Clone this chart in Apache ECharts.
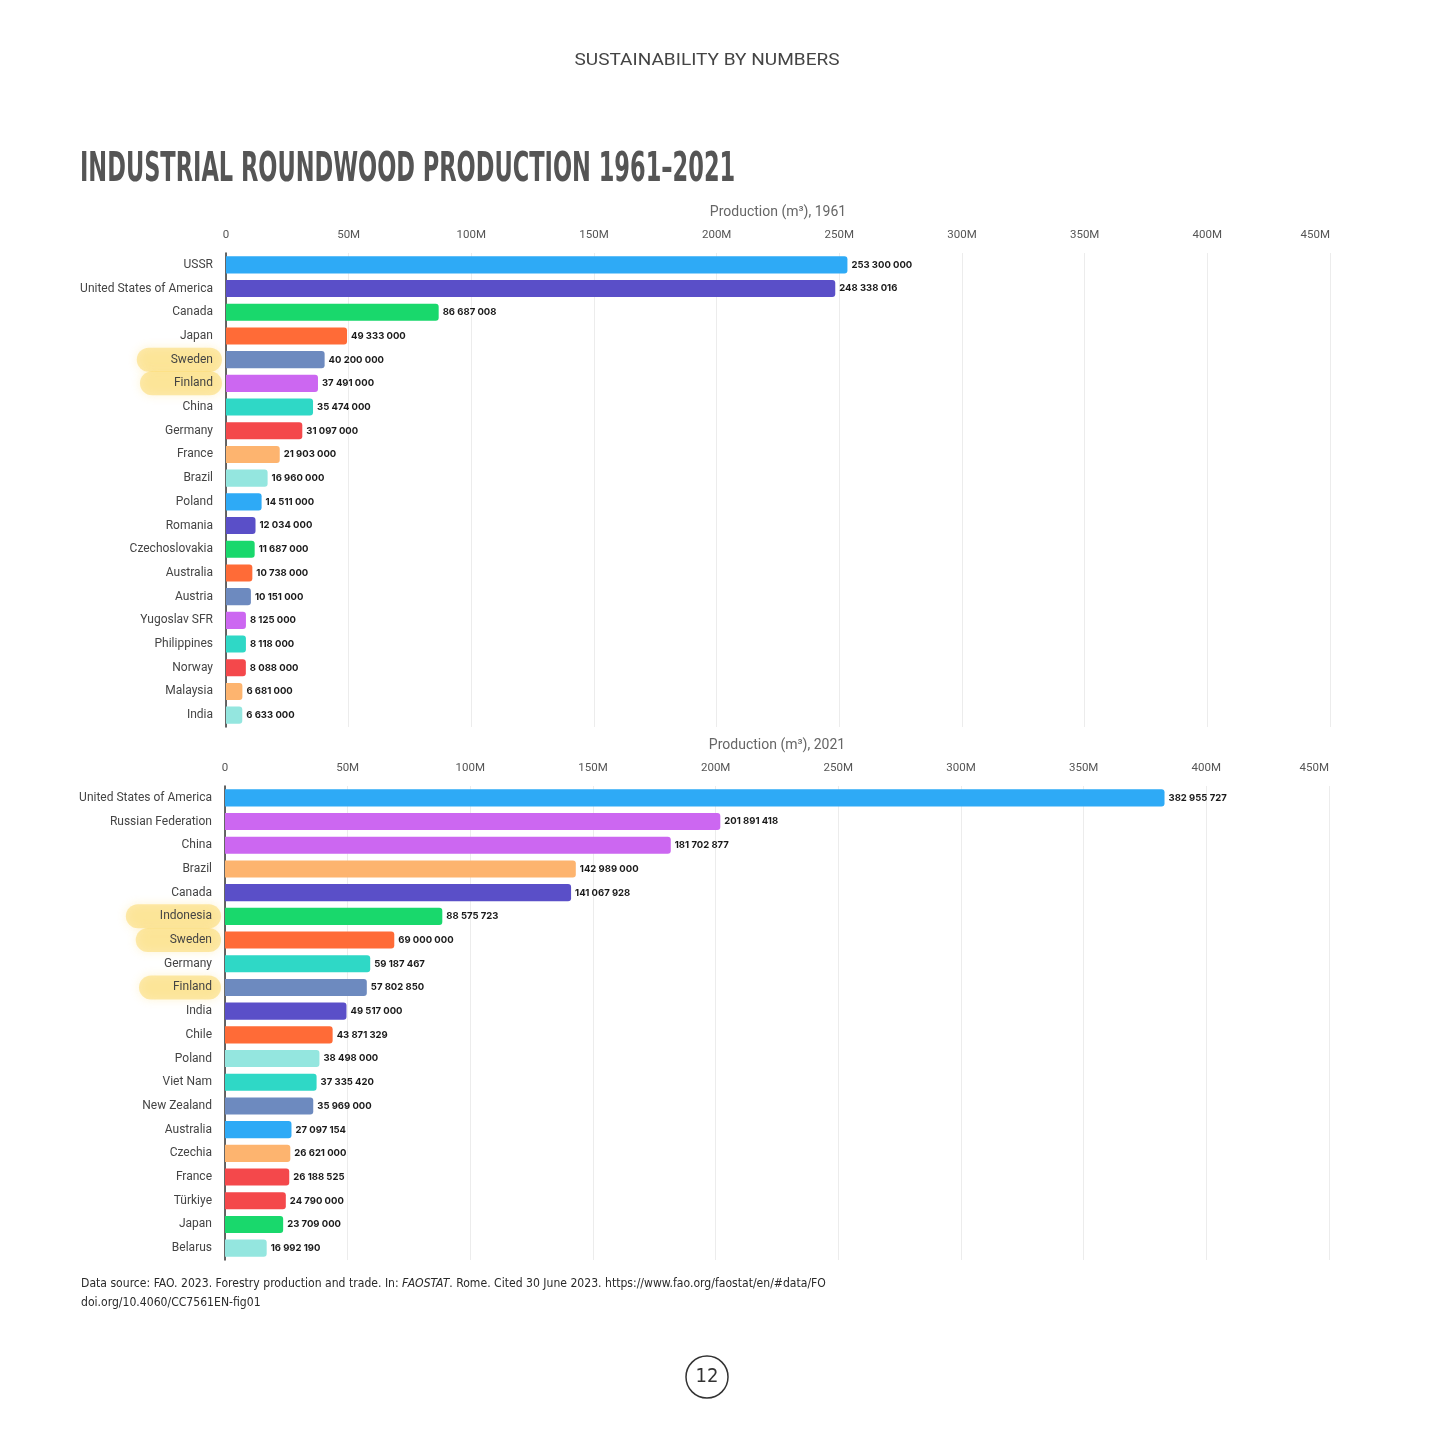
<!DOCTYPE html>
<html>
<head>
<meta charset="utf-8">
<title>Industrial roundwood production 1961-2021</title>
<script src="https://cdn.jsdelivr.net/npm/echarts@6/dist/echarts.min.js"></script>
<style>
  html, body { margin: 0; padding: 0; background: #fff; }
  #chart { width: 1433px; height: 1440px; }
</style>
</head>
<body>
<div id="chart"></div>
<script>
// 1961 data
const countries1961 = ["USSR", "United States of America", "Canada", "Japan", "Sweden", "Finland", "China", "Germany", "France", "Brazil",
  "Poland", "Romania", "Czechoslovakia", "Australia", "Austria", "Yugoslav SFR", "Philippines", "Norway", "Malaysia", "India"];
const values1961 = [253300000, 248338016, 86687008, 49333000, 40200000, 37491000, 35474000, 31097000, 21903000, 16960000,
  14511000, 12034000, 11687000, 10738000, 10151000, 8125000, 8118000, 8088000, 6681000, 6633000];

// 2021 data
const countries2021 = ["United States of America", "Russian Federation", "China", "Brazil", "Canada", "Indonesia", "Sweden", "Germany", "Finland", "India",
  "Chile", "Poland", "Viet Nam", "New Zealand", "Australia", "Czechia", "France", "Türkiye", "Japan", "Belarus"];
const values2021 = [382955727, 201891418, 181702877, 142989000, 141067928, 88575723, 69000000, 59187467, 57802850, 49517000,
  43871329, 38498000, 37335420, 35969000, 27097154, 26621000, 26188525, 24790000, 23709000, 16992190];

const axisMax = 450000000;
const axisStep = 50000000;

// highlighted (marker) labels
const marked1961 = ["Sweden", "Finland"];
const marked2021 = ["Indonesia", "Sweden", "Finland"];

// colours
const palette = {
  blue: "#2eaaf6", indigo: "#5a4fc8", green: "#19d86c", orange: "#ff6b37", slate: "#6d8abf",
  violet: "#cc67f1", teal: "#2fd8c6", red: "#f4484b", peach: "#fdb46f", mint: "#94e6df"
};
const colors1961 = ["blue", "indigo", "green", "orange", "slate", "violet", "teal", "red", "peach", "mint",
  "blue", "indigo", "green", "orange", "slate", "violet", "teal", "red", "peach", "mint"];
const colors2021 = ["blue", "violet", "violet", "peach", "indigo", "green", "orange", "teal", "slate", "indigo",
  "orange", "mint", "teal", "slate", "blue", "peach", "red", "red", "green", "mint"];

const uiFont = "Roboto, 'Noto Sans', sans-serif";
const narrowFont = "'DejaVu Sans Condensed', sans-serif";

function fmtSpaced(v) {
  return String(v).replace(/\B(?=(\d{3})+(?!\d))/g, " ");
}

function makeAxes(idx, title, names, marked) {
  const x = {
    type: "value", gridIndex: idx, position: "top", min: 0, max: axisMax, interval: axisStep,
    name: title, nameLocation: "middle", nameGap: 34,
    nameTextStyle: { color: "#666", fontSize: 14, fontFamily: uiFont },
    axisLine: { show: false }, axisTick: { show: false },
    axisLabel: {
      color: "#555", fontSize: 11.5, fontFamily: uiFont, margin: 12, alignMaxLabel: "right",
      formatter: v => v === 0 ? "0" : (v / 1e6) + "M"
    },
    splitLine: { lineStyle: { color: "#ececec", width: 1 } }
  };
  const y = {
    type: "category", gridIndex: idx, data: names, inverse: true,
    axisLine: { show: true, lineStyle: { color: "#333", width: 1.5 } },
    axisTick: { show: false },
    axisLabel: {
      margin: 4,
      formatter: v => marked.indexOf(v) >= 0 ? "{hl|" + v + "}" : "{n|" + v + "}",
      rich: {
        n: { color: "#444", fontSize: 12, fontFamily: uiFont, padding: [0, 9, 0, 0] },
        hl: {
          color: "#444", fontSize: 12, fontFamily: uiFont,
          backgroundColor: "rgba(250,208,70,0.42)", padding: [6, 9, 6, 34], borderRadius: 12,
          shadowColor: "rgba(250,208,70,0.55)", shadowBlur: 10
        }
      }
    }
  };
  return { x, y };
}

function makeSeries(idx, values, colorKeys) {
  return {
    type: "bar", xAxisIndex: idx, yAxisIndex: idx, barCategoryGap: "28%",
    data: values.map((v, i) => ({ value: v, itemStyle: { color: palette[colorKeys[i]] } })),
    itemStyle: { borderRadius: [0, 3, 3, 0] },
    label: {
      show: true, position: "right", distance: 4, color: "#1a1a1a", fontSize: 9.5,
      fontWeight: "bold", fontFamily: "Inter, Roboto, sans-serif",
      formatter: p => fmtSpaced(p.value)
    },
    silent: true, animation: false
  };
}

const a1 = makeAxes(0, "Production (m³), 1961", countries1961, marked1961);
const a2 = makeAxes(1, "Production (m³), 2021", countries2021, marked2021);

const chart = echarts.init(document.getElementById("chart"));
chart.setOption({
  backgroundColor: "#fff",
  animation: false,
  grid: [
    { left: 226, right: 103, top: 253, height: 474 },
    { left: 225, right: 104, top: 786, height: 474 }
  ],
  xAxis: [a1.x, a2.x],
  yAxis: [a1.y, a2.y],
  series: [makeSeries(0, values1961, colors1961), makeSeries(1, values2021, colors2021)],
  graphic: [
    {
      type: "text", x: 707, y: 61, scaleX: 1.12,
      style: {
        text: "SUSTAINABILITY BY NUMBERS", fill: "#444", font: "400 17px " + uiFont,
        align: "center", verticalAlign: "middle"
      }
    },
    {
      type: "text", x: 80, y: 150, scaleX: 0.61,
      style: { text: "INDUSTRIAL ROUNDWOOD PRODUCTION 1961–2021", fill: "#555", font: "bold 41px " + narrowFont }
    },
    {
      type: "text", x: 81, y: 1274, scaleX: 0.93,
      style: {
        text: "{n|Data source: FAO. 2023. Forestry production and trade. In: }{i|FAOSTAT}{n|. Rome. Cited 30 June 2023. https://www.fao.org/faostat/en/#data/FO}\n{n|doi.org/10.4060/CC7561EN-fig01}",
        lineHeight: 19,
        rich: {
          n: { fill: "#2a2a2a", font: "13px " + narrowFont, lineHeight: 19 },
          i: { fill: "#2a2a2a", font: "italic 13px " + narrowFont, lineHeight: 19 }
        }
      }
    },
    {
      type: "circle", shape: { cx: 707, cy: 1377, r: 21 },
      style: { fill: "none", stroke: "#333", lineWidth: 1.5 }
    },
    {
      type: "text", x: 707, y: 1377,
      style: { text: "12", fill: "#333", font: "20px " + narrowFont, align: "center", verticalAlign: "middle" }
    }
  ]
});
</script>
</body>
</html>
